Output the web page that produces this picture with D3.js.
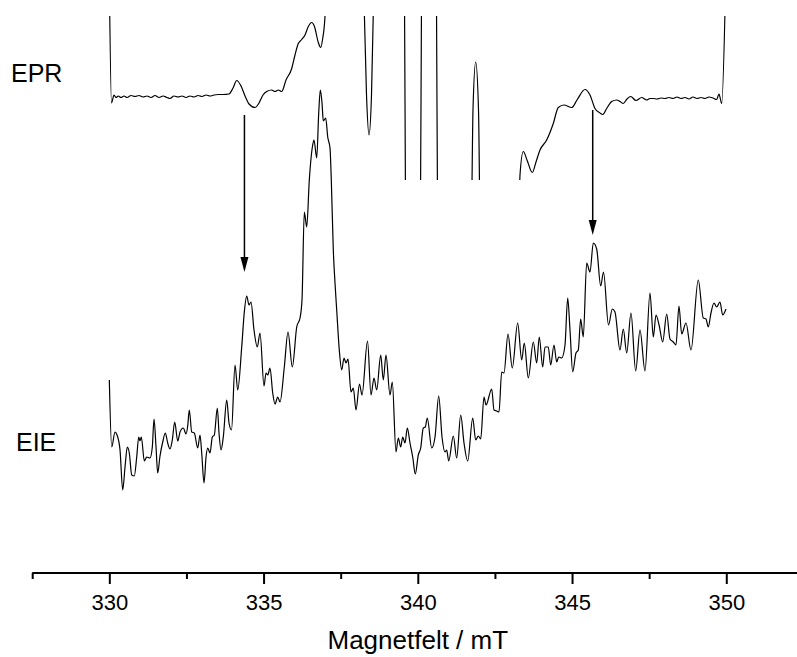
<!DOCTYPE html>
<html><head><meta charset="utf-8">
<script src="https://cdn.jsdelivr.net/npm/d3@7"></script>
<style>html,body{margin:0;padding:0;background:#fff;}svg{display:block;}</style>
</head><body>
<svg id="chart" width="797" height="657"></svg>
<script>
// ---------- data ----------
const majorTicks = [330, 335, 340, 345, 350];
const minorTicks = [327.5, 332.5, 337.5, 342.5, 347.5, 352.5];
const axisTitle = "Magnetfelt / mT";
const traceLabels = ["EPR", "EIE"];

const fieldEIE = [330.000,330.078,330.185,330.250,330.347,330.434,330.509,330.583,330.648,330.726,330.810,330.888,330.953,330.995,331.037,331.135,331.212,331.319,331.394,331.449,331.514,331.569,331.643,331.731,331.815,331.893,331.968,332.042,332.120,332.217,332.292,332.399,332.486,332.541,332.593,332.671,332.755,332.866,332.940,332.995,333.070,333.135,333.190,333.264,333.339,333.404,333.501,333.556,333.621,333.695,333.806,333.880,333.961,334.075,334.162,334.292,334.376,334.454,334.528,334.593,334.690,334.797,334.885,335.015,335.079,335.135,335.209,335.297,335.371,335.459,335.533,335.673,335.793,335.932,336.075,336.182,336.246,336.321,336.399,336.483,336.593,336.635,336.723,336.788,336.840,336.895,336.937,337.015,337.080,337.154,337.196,337.261,337.316,337.371,337.455,337.533,337.608,337.673,337.738,337.835,337.909,337.997,338.110,338.191,338.370,338.483,338.580,338.668,338.798,338.882,338.969,339.099,339.173,339.293,339.368,339.446,339.511,339.585,339.660,339.747,339.835,339.919,340.016,340.094,340.178,340.243,340.308,340.451,340.558,340.678,340.785,340.882,340.937,341.002,341.151,341.261,341.391,341.498,341.618,341.780,341.877,341.961,342.039,342.146,342.211,342.396,342.470,342.558,342.632,342.720,342.794,342.924,343.063,343.238,343.368,343.452,343.582,343.744,343.854,343.938,344.049,344.123,344.230,344.308,344.415,344.502,344.567,344.665,344.772,344.859,344.934,345.021,345.128,345.203,345.280,345.364,345.475,345.582,345.689,345.799,345.929,346.020,346.182,346.305,346.392,346.554,346.661,346.772,346.911,347.063,347.203,347.365,347.527,347.634,347.722,347.828,347.939,348.068,348.175,348.282,348.369,348.467,348.554,348.694,348.856,349.092,349.255,349.342,349.417,349.504,349.601,349.689,349.796,349.883,349.990];
const intensityEIE = [38.6,25.2,28.2,27.6,24.6,16.6,21.2,25.2,24.0,19.6,19.4,23.2,27.2,26.4,27.2,22.4,23.2,23.0,25.2,30.8,25.2,20.0,23.4,26.2,28.0,26.0,24.8,26.6,30.2,26.4,28.2,29.0,27.8,29.4,32.6,28.2,28.0,25.0,27.6,24.0,18.0,23.2,25.0,24.0,27.2,27.6,33.0,28.0,24.6,27.2,34.6,30.0,28.6,41.6,36.6,45.2,52.2,55.4,53.6,54.2,48.6,45.2,48.0,37.4,40.0,39.6,41.0,36.0,33.8,35.2,34.2,41.2,48.2,41.2,49.2,51.0,54.6,72.2,69.2,78.6,85.6,86.6,83.0,92.0,96.6,94.0,90.4,91.0,87.2,85.0,78.6,64.6,58.0,52.6,44.6,40.6,43.0,42.0,42.8,36.2,37.0,32.6,37.8,35.6,46.4,35.6,39.0,36.6,43.6,38.6,43.6,35.6,38.2,24.2,27.0,25.2,27.2,26.0,29.0,26.0,23.2,19.8,23.6,25.0,29.0,29.2,31.0,25.0,27.2,35.4,27.2,24.2,24.6,22.4,27.4,23.0,31.6,26.0,22.4,31.0,26.6,27.4,26.8,35.2,33.6,36.8,32.6,32.4,32.2,40.2,40.0,47.8,41.0,50.0,42.6,46.0,39.0,46.2,42.0,47.2,41.2,45.2,45.2,41.6,45.6,42.2,43.2,43.0,45.6,55.0,48.6,40.2,44.0,44.6,50.8,47.2,62.0,60.2,66.0,64.8,57.4,60.2,49.6,52.8,52.2,44.6,48.8,44.0,52.0,40.4,48.6,40.4,56.0,47.2,51.6,49.4,46.2,51.8,46.8,46.2,45.6,53.4,47.8,50.0,44.6,58.6,51.0,50.8,49.2,52.0,54.0,53.2,54.2,51.6,52.8];

const fieldEPR = [330.000,330.071,330.152,330.217,330.292,330.379,330.477,330.574,330.703,330.833,330.963,331.092,331.222,331.352,331.481,331.611,331.741,331.870,331.968,332.097,332.227,332.357,332.486,332.616,332.746,332.875,333.005,333.135,333.264,333.394,333.524,333.686,333.880,334.010,334.130,334.269,334.399,334.528,334.723,334.853,334.982,335.102,335.264,335.371,335.478,335.588,335.728,335.913,336.019,336.126,336.237,336.344,336.451,336.561,336.645,336.775,336.852,336.917,336.992,337.057,337.640,338.240,338.337,338.418,338.499,338.580,339.099,339.553,339.617,339.844,340.071,340.136,340.363,340.590,340.655,341.206,341.708,341.789,341.877,341.968,342.049,342.665,343.264,343.313,343.420,343.540,343.712,343.832,343.961,344.178,344.392,344.554,344.739,344.989,345.170,345.420,345.582,345.744,345.906,345.994,346.123,346.285,346.447,346.554,346.661,346.781,346.901,347.073,347.258,347.420,347.527,347.634,347.754,347.884,348.013,348.143,348.273,348.402,348.532,348.662,348.791,348.921,349.051,349.180,349.310,349.440,349.569,349.689,349.764,349.851,349.981];
const intensityEPR = [118.6,94.0,95.6,95.1,95.4,95.1,95.4,95.1,95.5,95.3,95.5,95.2,95.4,95.1,95.5,95.1,95.4,95.1,94.9,95.4,95.2,95.4,95.1,95.4,95.2,95.5,95.3,95.6,95.4,95.6,95.7,95.7,95.8,97.0,98.5,97.4,95.4,93.8,93.1,94.0,95.6,96.3,96.6,96.3,96.6,96.3,98.6,100.9,103.6,105.9,106.7,107.6,109.3,110.1,109.4,106.1,105.1,106.9,111.4,122.6,174.6,118.6,95.6,87.6,95.6,118.6,174.6,134.6,54.6,34.6,54.6,134.6,174.6,134.6,54.6,34.6,54.6,92.6,102.2,92.6,54.6,34.6,64.6,79.6,84.3,82.6,80.1,82.2,84.6,86.6,89.9,93.1,93.6,93.1,94.7,96.7,95.6,92.9,92.0,91.7,92.9,94.3,94.6,94.3,93.9,94.8,95.3,94.5,95.1,94.6,94.9,94.9,94.8,95.0,94.9,95.1,94.9,95.2,94.9,95.1,94.8,95.2,94.9,95.1,94.9,95.2,95.0,94.7,95.8,93.9,118.6];

// visible intensity window of the EPR trace (a.u.)
const eprWindow = [78.6, 111.4];

// arrows: field position, start intensity, end intensity
const arrowField = [334.38, 345.67];
const arrowFrom = [91.6, 92.6];
const arrowTo = [60.2, 67.6];

// ---------- drawing ----------
const svg = d3.select("#chart");
const W = 797, H = 657;
const font = "'Liberation Sans', Arial, Helvetica, sans-serif";

const x = d3.scaleLinear().domain([327.5, 352.5]).range([32.2, 803.4]);
const y = d3.scaleLinear().domain([0, 100]).range([573, 73]);

const line = d3.line().x(d => x(d[0])).y(d => y(d[1])).curve(d3.curveMonotoneX);

// clip for EPR
svg.append("defs").append("clipPath").attr("id", "eprclip")
  .append("rect").attr("x", 0).attr("width", W)
  .attr("y", y(eprWindow[1])).attr("height", y(eprWindow[0]) - y(eprWindow[1]));

const eprData = fieldEPR.map((f, i) => [f, intensityEPR[i]]);
const eieData = fieldEIE.map((f, i) => [f, intensityEIE[i]]);

svg.append("path").datum(eprData).attr("d", line)
  .attr("fill", "none").attr("stroke", "#000").attr("stroke-width", 1.2)
  .attr("stroke-linejoin", "round").attr("clip-path", "url(#eprclip)");

svg.append("path").datum(eieData).attr("d", line)
  .attr("fill", "none").attr("stroke", "#000").attr("stroke-width", 1.2)
  .attr("stroke-linejoin", "round");

// arrows
arrowField.forEach((f, i) => {
  const ax = x(f), y0 = y(arrowFrom[i]), y1 = y(arrowTo[i]);
  svg.append("line").attr("x1", ax).attr("x2", ax).attr("y1", y0).attr("y2", y1 - 12)
    .attr("stroke", "#000").attr("stroke-width", 1.5);
  svg.append("path")
    .attr("d", `M${ax - 4},${y1 - 15} L${ax + 4},${y1 - 15} L${ax},${y1} Z`)
    .attr("fill", "#000");
});

// axis
const axisG = svg.append("g").attr("transform", `translate(0,${y(0)})`);
axisG.append("line").attr("x1", x(327.5)).attr("x2", W + 10).attr("y1", 0).attr("y2", 0)
  .attr("stroke", "#000").attr("stroke-width", 2);
const major = d3.axisBottom(x).tickValues(majorTicks).tickSize(11).tickSizeOuter(0).tickPadding(10)
  .tickFormat(d3.format("d"));
const gMajor = axisG.append("g").call(major);
gMajor.select(".domain").remove();
gMajor.selectAll(".tick line").attr("stroke-width", 2);
gMajor.selectAll(".tick text").attr("font-family", font).attr("font-size", 22).attr("fill", "#000");
const minor = d3.axisBottom(x).tickValues(minorTicks).tickSize(6).tickSizeOuter(0).tickFormat("");
const gMinor = axisG.append("g").call(minor);
gMinor.select(".domain").remove();
gMinor.selectAll(".tick line").attr("stroke-width", 2);

svg.append("text").attr("x", x(340)).attr("y", 649).attr("text-anchor", "middle")
  .attr("font-family", font).attr("font-size", 26).text(axisTitle);

// trace labels
svg.append("text").attr("x", 11).attr("y", 82).attr("font-family", font).attr("font-size", 25).text(traceLabels[0]);
svg.append("text").attr("x", 16).attr("y", 451).attr("font-family", font).attr("font-size", 25).text(traceLabels[1]);
</script>
</body></html>
